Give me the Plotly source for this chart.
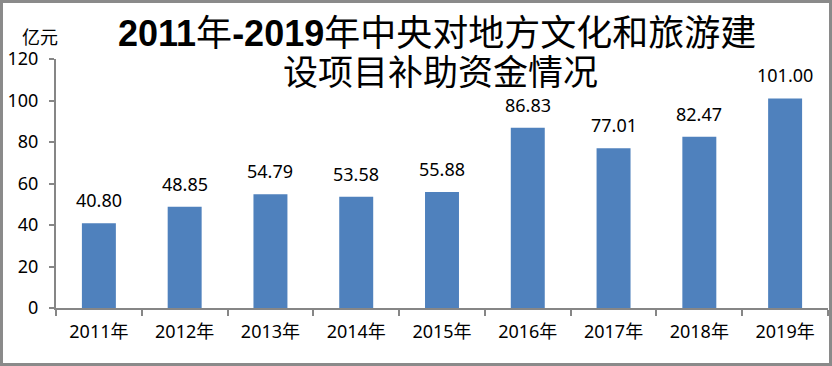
import plotly.graph_objects as go

categories = ["2011年", "2012年", "2013年", "2014年", "2015年", "2016年", "2017年", "2018年", "2019年"]
values = [40.80, 48.85, 54.79, 53.58, 55.88, 86.83, 77.01, 82.47, 101.00]
value_labels = ["40.80", "48.85", "54.79", "53.58", "55.88", "86.83", "77.01", "82.47", "101.00"]
y_ticks = [0, 20, 40, 60, 80, 100, 120]
unit_label = "亿元"
title_line1 = "<b>2011</b>年<b>-2019</b>年中央对地方文化和旅游建"
title_line2 = "设项目补助资金情况"

W, H = 832, 366
L, R, T, B = 56, 4, 59, 58
PW, PH = W - L - R, H - T - B

def px_x(p):
    return (p - L) / PW

def px_y(p):
    return (H - B - p) / PH

FONT = "Noto Sans, Noto Sans CJK SC, sans-serif"
TFONT = "Liberation Sans, Noto Sans CJK SC, sans-serif"
AX = "#868686"

fig = go.Figure()
fig.add_trace(go.Bar(x=categories, y=values, marker=dict(color="#4F81BD", line=dict(width=0)),
                     hoverinfo="skip"))

annotations = []
for c, v, t in zip(categories, values, value_labels):
    annotations.append(dict(x=c, y=v, xref="x", yref="y", text=t, showarrow=False,
                            yanchor="middle", yshift=23,
                            font=dict(family=FONT, size=18, color="#000000")))

annotations.append(dict(x=px_x(39.5), y=px_y(37), xref="paper", yref="paper", text=unit_label,
                        showarrow=False, xanchor="center", yanchor="middle",
                        font=dict(family=FONT, size=18, color="#000000")))
annotations.append(dict(x=px_x(437), y=px_y(33), xref="paper", yref="paper", text=title_line1,
                        showarrow=False, xanchor="center", yanchor="middle",
                        font=dict(family=TFONT, size=36, color="#000000")))
annotations.append(dict(x=px_x(440), y=px_y(72), xref="paper", yref="paper", text=title_line2,
                        showarrow=False, xanchor="center", yanchor="middle",
                        font=dict(family=TFONT, size=35, color="#000000")))

fig.update_layout(
    width=W, height=H,
    margin=dict(l=L, r=R, t=T, b=B, pad=0),
    paper_bgcolor="white", plot_bgcolor="white",
    bargap=0.604,
    showlegend=False,
    annotations=annotations,
    shapes=[dict(type="rect", xref="paper", yref="paper",
                 x0=px_x(1.5), x1=px_x(830.5), y0=px_y(364.5), y1=px_y(1.5),
                 line=dict(color="#8a8a8a", width=3), fillcolor="rgba(0,0,0,0)", layer="above")],
    xaxis=dict(type="category", showline=True, linecolor=AX, linewidth=2,
               ticks="outside", tickson="boundaries", ticklen=6, tickcolor=AX, tickwidth=2,
               showgrid=False, zeroline=False, ticklabelstandoff=6,
               tickfont=dict(family=FONT, size=18, color="#000000")),
    yaxis=dict(range=[0, 120], tickvals=y_ticks, showline=True, linecolor=AX, linewidth=2,
               ticks="outside", ticklen=5, tickcolor=AX, tickwidth=2,
               showgrid=False, zeroline=False, ticklabelstandoff=7,
               tickfont=dict(family=FONT, size=18, color="#000000")),
)

fig.write_html("out.html", config={"displayModeBar": False},
               post_script="document.body.style.margin='0';document.body.style.overflow='hidden';")
